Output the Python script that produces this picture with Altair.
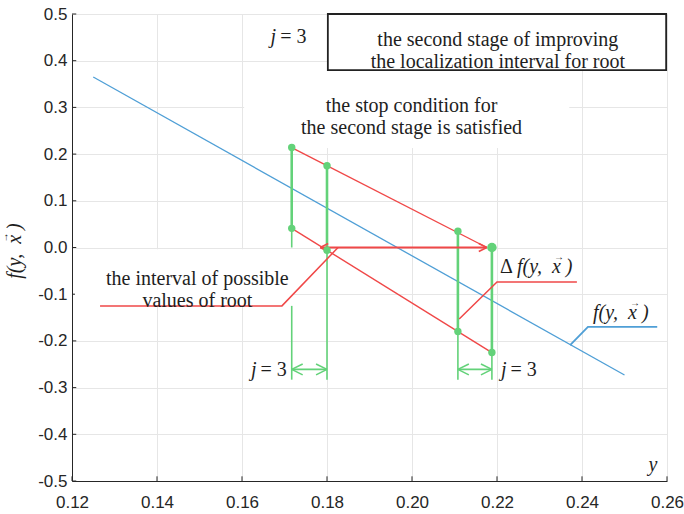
import altair as alt
import pandas as pd

# ---------------- data ----------------
x_ticks = [0.12, 0.14, 0.16, 0.18, 0.20, 0.22, 0.24, 0.26]
y_ticks = [-0.5, -0.4, -0.3, -0.2, -0.1, 0.0, 0.1, 0.2, 0.3, 0.4, 0.5]

blue_y = [0.125, 0.25]
blue_f = [0.365, -0.273]

upper_red_y = [0.1717, 0.2176]
upper_red_f = [0.214, 0.0]
lower_red_y = [0.1717, 0.2188]
lower_red_f = [0.041, -0.225]

point_y = [0.1717, 0.1717, 0.180, 0.180, 0.2108, 0.2108, 0.2188]
point_f = [0.214, 0.041, 0.175, -0.006, 0.035, -0.180, -0.225]
end_y = [0.2188]
end_f = [0.0]

seg_y = [0.1717, 0.180, 0.2108, 0.2188]
seg_top = [0.214, 0.175, 0.035, 0.0]
seg_bot = [0.041, -0.006, -0.180, -0.225]

ext_y = [0.1717, 0.1717, 0.180, 0.2108, 0.2188]
ext_top = [0.041, -0.125, -0.006, -0.180, -0.225]
ext_bot = [0.0, -0.283, -0.283, -0.283, -0.283]

dim_left = [0.1717, 0.2108]
dim_right = [0.180, 0.2188]
dim_f = [-0.261, -0.261]

arrow_left = [0.1784]
arrow_right = [0.2176]
arrow_f = [0.0]

lead_interval_y = [0.1266, 0.1694, 0.1826]
lead_interval_f = [-0.125, -0.125, 0.0]
lead_delta_y = [0.2111, 0.2200, 0.2388]
lead_delta_f = [-0.153, -0.074, -0.074]
lead_func_y = [0.2372, 0.2414, 0.2577]
lead_func_f = [-0.209, -0.170, -0.170]

box_x = [0.1802]; box_x2 = [0.2598]; box_f = [0.38]; box_f2 = [0.5]
bg_stop_x = [0.1605]; bg_stop_x2 = [0.237]; bg_stop_f = [0.213]; bg_stop_f2 = [0.38]
bg_int_x = [0.1207]; bg_int_x2 = [0.1722]; bg_int_f = [-0.125]; bg_int_f2 = [-0.004]

stage_text = ["the second stage of improving", "the localization interval for root"]
stage_pos = (0.2202, 0.444)
stop_text = ["the stop condition for", "the second stage is satisfied"]
stop_pos = (0.1999, 0.303)
interval_text = ["the interval of possible", "values of root"]
interval_pos = (0.1495, -0.0675)

j_labels_y = [0.1685, 0.1639, 0.2227]
j_labels_f = [0.451, -0.262, -0.262]

delta_pos = (0.2207, -0.042)
func_pos = (0.2426, -0.140)
yletter_pos = (0.2567, -0.466)
ytitle_pos = (0.10659, -0.0075)

FUNC = "f(y,\u00a0\u00a0x\u00a0)"
VEC = "\u2192"

# ---------------- style ----------------
BLUE = "#4f9fd6"
RED = "#f04848"
GREEN = "#63d279"
DARK = "#262626"
SERIF = "Liberation Serif"
SANS = "Liberation Sans"

xscale = alt.Scale(domain=[0.12, 0.26], nice=False, zero=False)
yscale = alt.Scale(domain=[-0.5, 0.5], nice=False, zero=False)

xaxis = alt.Axis(values=x_ticks, format=".2f", labelFont=SANS, labelFontSize=17,
                 labelColor=DARK, labelPadding=13, ticks=False, grid=True,
                 gridColor="#e6e6e6", domainColor=DARK, domainWidth=1,
                 labelFlush=False)
yaxis = alt.Axis(values=y_ticks,
                 labelExpr="replace(format(datum.value, '.1f'), '\u2212', '-')",
                 labelFont=SANS, labelFontSize=17, labelColor=DARK, labelPadding=5,
                 ticks=False, grid=True, gridColor="#e6e6e6", domainColor=DARK,
                 domainWidth=1, labelFlush=False)


def X(field):
    return alt.X(field, type="quantitative", scale=xscale, axis=xaxis, title=None)


def Y(field):
    return alt.Y(field, type="quantitative", scale=yscale, axis=yaxis, title=None)


def df(**kw):
    return pd.DataFrame(kw)


layers = []

# inward ticks
layers.append(alt.Chart(df(t=x_ticks, a=[-0.5] * len(x_ticks), b=[-0.49] * len(x_ticks)))
              .mark_rule(color=DARK, strokeWidth=1)
              .encode(x=X("t"), y=Y("a"), y2="b"))
layers.append(alt.Chart(df(t=y_ticks, a=[0.12] * len(y_ticks), b=[0.121] * len(y_ticks)))
              .mark_rule(color=DARK, strokeWidth=1)
              .encode(y=Y("t"), x=X("a"), x2="b"))

# white backgrounds
layers.append(alt.Chart(df(x=bg_stop_x, x2=bg_stop_x2, f=bg_stop_f, f2=bg_stop_f2))
              .mark_rect(color="white").encode(x=X("x"), x2="x2", y=Y("f"), y2="f2"))
layers.append(alt.Chart(df(x=bg_int_x, x2=bg_int_x2, f=bg_int_f, f2=bg_int_f2))
              .mark_rect(color="white").encode(x=X("x"), x2="x2", y=Y("f"), y2="f2"))
layers.append(alt.Chart(df(x=box_x, x2=box_x2, f=box_f, f2=box_f2))
              .mark_rect(fill="white", stroke="#222222", strokeWidth=1.8)
              .encode(x=X("x"), x2="x2", y=Y("f"), y2="f2"))

# blue function line
layers.append(alt.Chart(df(y=blue_y, f=blue_f)).mark_line(color=BLUE, strokeWidth=1.3)
              .encode(x=X("y"), y=Y("f")))

# green extension lines (thin) and interval lines (thick)
layers.append(alt.Chart(df(y=ext_y, a=ext_top, b=ext_bot))
              .mark_rule(color=GREEN, strokeWidth=1.6)
              .encode(x=X("y"), y=Y("a"), y2="b"))
layers.append(alt.Chart(df(y=seg_y, a=seg_top, b=seg_bot))
              .mark_rule(color=GREEN, strokeWidth=2.6)
              .encode(x=X("y"), y=Y("a"), y2="b"))

# dimension arrows
layers.append(alt.Chart(df(a=dim_left, b=dim_right, f=dim_f))
              .mark_rule(color=GREEN, strokeWidth=1.6)
              .encode(x=X("a"), x2="b", y=Y("f")))
layers.append(alt.Chart(df(a=dim_left, f=dim_f))
              .mark_point(shape="M0,0L2,-1M0,0L2,1", filled=False, color=GREEN,
                          size=120, strokeWidth=1.6, opacity=1)
              .encode(x=X("a"), y=Y("f")))
layers.append(alt.Chart(df(a=dim_right, f=dim_f))
              .mark_point(shape="M0,0L-2,-1M0,0L-2,1", filled=False, color=GREEN,
                          size=120, strokeWidth=1.6, opacity=1)
              .encode(x=X("a"), y=Y("f")))

# red lines
layers.append(alt.Chart(df(y=upper_red_y, f=upper_red_f)).mark_line(color=RED, strokeWidth=1.4)
              .encode(x=X("y"), y=Y("f")))
layers.append(alt.Chart(df(y=lower_red_y, f=lower_red_f)).mark_line(color=RED, strokeWidth=1.4)
              .encode(x=X("y"), y=Y("f")))
layers.append(alt.Chart(df(a=arrow_left, b=arrow_right, f=arrow_f))
              .mark_rule(color=RED, strokeWidth=2)
              .encode(x=X("a"), x2="b", y=Y("f")))
layers.append(alt.Chart(df(a=arrow_left, f=arrow_f))
              .mark_point(shape="M0,0L2,-1M0,0L2,1", filled=False, color=RED,
                          size=64, strokeWidth=1.6, opacity=1)
              .encode(x=X("a"), y=Y("f")))
layers.append(alt.Chart(df(a=arrow_right, f=arrow_f))
              .mark_point(shape="M0,0L-2,-1M0,0L-2,1", filled=False, color=RED,
                          size=64, strokeWidth=1.6, opacity=1)
              .encode(x=X("a"), y=Y("f")))

# leaders
for ly, lf, col, w in [(lead_interval_y, lead_interval_f, RED, 1.5),
                       (lead_delta_y, lead_delta_f, RED, 1.5),
                       (lead_func_y, lead_func_f, BLUE, 1.8)]:
    layers.append(alt.Chart(df(y=ly, f=lf, o=list(range(len(ly)))))
                  .mark_line(color=col, strokeWidth=w)
                  .encode(x=X("y"), y=Y("f"), order="o:Q"))

# green points
layers.append(alt.Chart(df(y=point_y, f=point_f))
              .mark_circle(color=GREEN, size=55, opacity=1)
              .encode(x=X("y"), y=Y("f")))
layers.append(alt.Chart(df(y=end_y, f=end_f))
              .mark_circle(color=GREEN, size=90, opacity=1)
              .encode(x=X("y"), y=Y("f")))


# texts
def text_layer(x, f, txt, italic=False, align="center", dx=0, dy=0, size=20, angle=0):
    kw = dict(font=SERIF, fontSize=size, color="#1e1e1e", align=align,
              baseline="middle", dx=dx, dy=dy, lineHeight=22)
    if italic:
        kw["fontStyle"] = "italic"
    if angle:
        kw["angle"] = angle
    return (alt.Chart(df(x=[x], f=[f], t=[txt]))
            .mark_text(**kw)
            .encode(x=X("x"), y=Y("f"), text="t:N"))


def multiline_layer(pos, lines):
    return (alt.Chart(pd.DataFrame({"x": [pos[0]], "f": [pos[1]], "t": [lines]}))
            .mark_text(font=SERIF, fontSize=20, color="#1e1e1e", align="center",
                       baseline="middle", lineHeight=22)
            .encode(x=X("x"), y=Y("f"), text="t"))


layers.append(multiline_layer(stage_pos, stage_text))
layers.append(multiline_layer(stop_pos, stop_text))
layers.append(multiline_layer(interval_pos, interval_text))

for jx, jf in zip(j_labels_y, j_labels_f):
    layers.append(text_layer(jx, jf, "j", italic=True, align="right", dx=-2))
    layers.append(text_layer(jx, jf, "= 3", align="left", dx=2))

# Delta f(y, x->) label
layers.append(text_layer(delta_pos[0], delta_pos[1], "\u0394", align="left"))
layers.append(text_layer(delta_pos[0], delta_pos[1], FUNC, italic=True, align="left", dx=17))
layers.append(text_layer(delta_pos[0], delta_pos[1], VEC, align="center", dx=17 + 42, dy=-10, size=10))
# f(y, x->) label
layers.append(text_layer(func_pos[0], func_pos[1], FUNC, italic=True, align="left"))
layers.append(text_layer(func_pos[0], func_pos[1], VEC, align="center", dx=42, dy=-10, size=10))
# axis letter y
layers.append(text_layer(yletter_pos[0], yletter_pos[1], "y", italic=True))
# rotated y-axis title
layers.append(text_layer(ytitle_pos[0], ytitle_pos[1], FUNC, italic=True, angle=270))
layers.append(text_layer(ytitle_pos[0], ytitle_pos[1], VEC, dx=13.5, dy=-10, size=10, angle=270))

chart = (alt.layer(*layers)
         .properties(width=595, height=467,
                     autosize=alt.AutoSizeParams(type="none"),
                     padding={"left": 72, "top": 14, "right": 17, "bottom": 33},
                     background="white")
         .configure_view(strokeWidth=0))

chart.save("out.html", embed_options={"renderer": "svg", "actions": False})
